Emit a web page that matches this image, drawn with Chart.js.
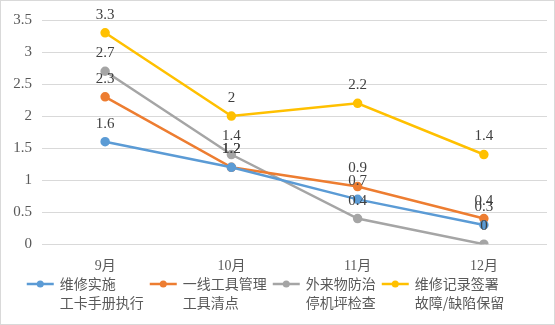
<!DOCTYPE html>
<html>
<head>
<meta charset="utf-8">
<script src="https://cdn.jsdelivr.net/npm/chart.js@4"></script>
<style>
  html, body { margin: 0; padding: 0; background: #fff; }
  #wrap { width: 555px; height: 325px; position: relative; box-sizing: border-box; border: 1px solid #d9d9d9; }
  #chart { position: absolute; left: 0; top: 0; }
</style>
</head>
<body>
<div id="wrap"><canvas id="chart" width="553" height="323"></canvas></div>
<script>
const months = ['9月', '10月', '11月', '12月'];
const seriesNames = [
  ['维修实施', '工卡手册执行'],
  ['一线工具管理', '工具清点'],
  ['外来物防治', '停机坪检查'],
  ['维修记录签署', '故障/缺陷保留']
];
const blueVals = [1.6, 1.2, 0.7, 0.3];
const orangeVals = [2.3, 1.2, 0.9, 0.4];
const grayVals = [2.7, 1.4, 0.4, 0];
const yellowVals = [3.3, 2, 2.2, 1.4];
const colors = ['#5B9BD5', '#ED7D31', '#A5A5A5', '#FFC000'];
const FONT = "'Noto Sans CJK SC', 'Noto Sans', sans-serif";
const NUMFONT = "'Liberation Serif', 'Noto Sans CJK SC', serif";

const valueLabels = {
  id: 'valueLabels',
  afterDatasetsDraw(chart) {
    const ctx = chart.ctx;
    ctx.save();
    ctx.font = '15px ' + NUMFONT;
    ctx.fillStyle = '#404040';
    ctx.textAlign = 'center';
    ctx.textBaseline = 'middle';
    chart.data.datasets.forEach((ds, i) => {
      chart.getDatasetMeta(i).data.forEach((pt, j) => {
        ctx.fillText(String(ds.data[j]), pt.x, pt.y - 18);
      });
    });
    ctx.restore();
  }
};

// legend with two-line labels, drawn under the axis
const twoLineLegend = {
  id: 'twoLineLegend',
  afterDraw(chart) {
    const ctx = chart.ctx;
    ctx.save();
    ctx.font = '14px ' + FONT;
    const gap = 6, mark = 27;
    const widths = chart.data.datasets.map(ds => Math.max(...ds.label.map(t => ctx.measureText(t).width)));
    let total = widths.reduce((a, w) => a + mark + gap + w, 0) + gap * (widths.length - 1);
    let x = (chart.width - total) / 2 - 12;
    const y1 = 283, y2 = 302;
    chart.data.datasets.forEach((ds, i) => {
      ctx.strokeStyle = ds.borderColor;
      ctx.lineWidth = 2.5;
      ctx.beginPath();
      ctx.moveTo(x, y1);
      ctx.lineTo(x + mark, y1);
      ctx.stroke();
      ctx.fillStyle = ds.borderColor;
      ctx.beginPath();
      ctx.arc(x + mark / 2, y1, 3.5, 0, Math.PI * 2);
      ctx.fill();
      ctx.fillStyle = '#595959';
      ctx.textAlign = 'left';
      ctx.textBaseline = 'middle';
      ctx.fillText(ds.label[0], x + mark + gap, y1);
      ctx.fillText(ds.label[1], x + mark + gap, y2);
      x += mark + gap + widths[i] + gap;
    });
    ctx.restore();
  }
};

const allVals = [blueVals, orangeVals, grayVals, yellowVals];

new Chart(document.getElementById('chart').getContext('2d'), {
  type: 'line',
  data: {
    labels: months,
    datasets: allVals.map((vals, i) => ({
      label: seriesNames[i],
      data: vals,
      borderColor: colors[i],
      backgroundColor: colors[i],
      borderWidth: 2.5,
      pointRadius: 3.5,
      pointHoverRadius: 3.5,
      tension: 0
    }))
  },
  options: {
    responsive: false,
    animation: false,
    devicePixelRatio: 1,
    layout: { padding: { top: 19, right: 7, bottom: 35, left: 0 } },
    scales: {
      x: {
        offset: true,
        grid: { display: false, drawTicks: false },
        border: { display: false },
        ticks: { color: '#595959', font: { family: NUMFONT, size: 14 }, padding: 14, maxRotation: 0 }
      },
      y: {
        min: 0,
        max: 3.5,
        ticks: {
          stepSize: 0.5, color: '#595959', font: { family: NUMFONT, size: 15 }, padding: 10,
          callback: v => String(Number(v.toFixed(1)))
        },
        grid: { color: '#d9d9d9', drawTicks: false },
        border: { display: false },
        afterFit(scale) { scale.width = 41; }
      }
    },
    plugins: {
      legend: { display: false },
      tooltip: { enabled: false }
    }
  },
  plugins: [valueLabels, twoLineLegend]
});
</script>
</body>
</html>
